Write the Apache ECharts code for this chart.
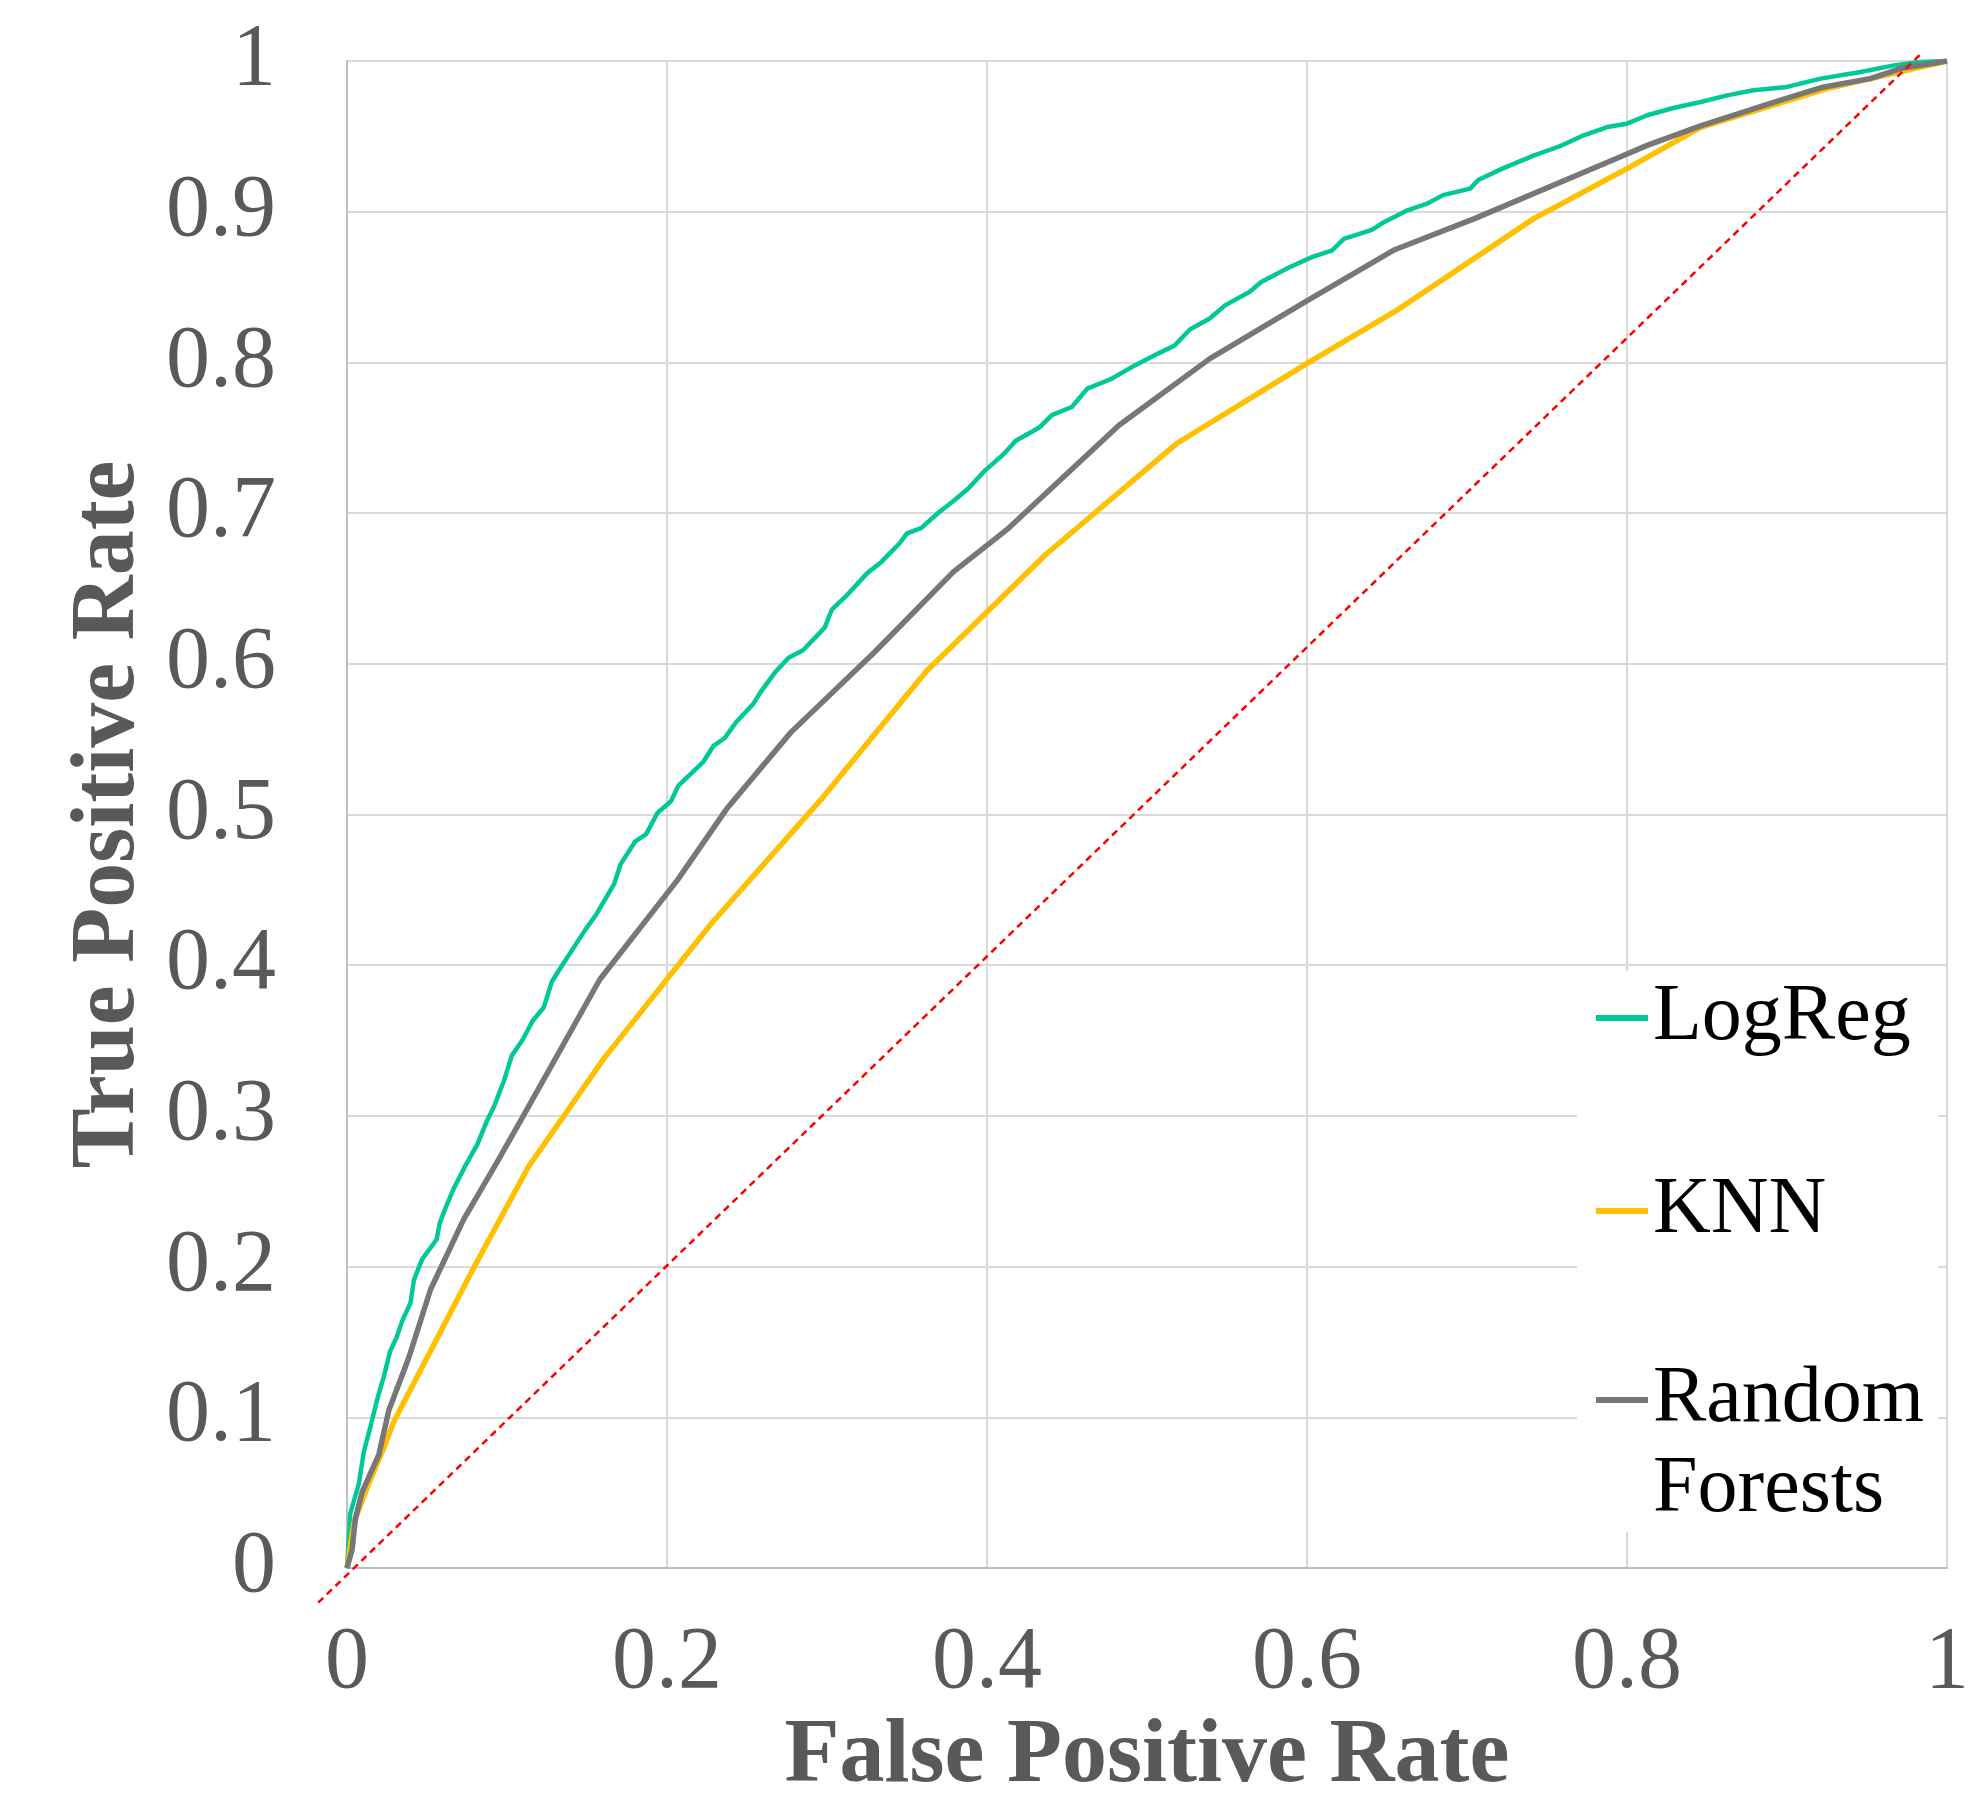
<!DOCTYPE html>
<html>
<head>
<meta charset="utf-8">
<script src="https://cdn.jsdelivr.net/npm/echarts@6/dist/echarts.min.js"></script>
<style>
html,body{margin:0;padding:0;background:#fff;}
#chart{width:1976px;height:1812px;}
</style>
</head>
<body>
<div id="chart"></div>
<script>
// ---- Data ----
const seriesNames = ['LogReg', 'KNN', 'Random Forests'];
const xTickValues = [0, 0.2, 0.4, 0.6, 0.8, 1];
const yTickValues = [0, 0.1, 0.2, 0.3, 0.4, 0.5, 0.6, 0.7, 0.8, 0.9, 1];

const logRegFpr = [0,0.002,0.0074,0.0105,0.0147,0.0189,0.023,0.027,0.031,0.0345,0.0397,0.0418,0.047,0.056,0.058,0.0616,0.0668,0.074,0.0814,0.0876,0.0918,0.098,0.103,0.1095,0.116,0.123,0.128,0.1345,0.149,0.156,0.167,0.171,0.180,0.187,0.194,0.2026,0.207,0.2227,0.229,0.236,0.243,0.254,0.2584,0.2673,0.276,0.285,0.2986,0.303,0.312,0.325,0.334,0.3454,0.350,0.3588,0.370,0.379,0.388,0.399,0.410,0.418,0.433,0.4405,0.453,0.4627,0.4776,0.4924,0.5072,0.517,0.527,0.539,0.549,0.564,0.5714,0.5887,0.6034,0.6158,0.623,0.6405,0.648,0.6628,0.675,0.685,0.702,0.707,0.722,0.742,0.7584,0.773,0.7876,0.800,0.8126,0.829,0.846,0.8626,0.879,0.900,0.921,0.946,0.9668,0.983,1];
const logRegTpr = [0,0.036,0.056,0.077,0.094,0.112,0.127,0.144,0.153,0.164,0.176,0.191,0.205,0.218,0.229,0.239,0.252,0.267,0.281,0.297,0.306,0.323,0.340,0.350,0.363,0.372,0.389,0.400,0.4236,0.434,0.454,0.467,0.482,0.487,0.501,0.509,0.519,0.535,0.5455,0.5506,0.561,0.5735,0.581,0.594,0.604,0.609,0.624,0.636,0.645,0.660,0.6676,0.680,0.6866,0.690,0.7006,0.708,0.716,0.7285,0.7387,0.748,0.757,0.765,0.7704,0.7826,0.789,0.798,0.806,0.811,0.822,0.829,0.838,0.8467,0.8534,0.863,0.870,0.8744,0.882,0.888,0.893,0.9009,0.9053,0.911,0.9153,0.921,0.9286,0.9374,0.9436,0.9507,0.9562,0.9584,0.964,0.9688,0.9728,0.9772,0.9806,0.9828,0.9883,0.9927,0.9971,0.9993,1];

const knnFpr = [0,0.0043,0.0126,0.023,0.0293,0.0793,0.1136,0.1605,0.2272,0.2963,0.3621,0.4369,0.5183,0.5998,0.6553,0.7417,0.800,0.846,0.925,1];
const knnTpr = [0,0.030,0.0534,0.0797,0.0972,0.1994,0.2666,0.338,0.427,0.51,0.595,0.6727,0.746,0.7992,0.834,0.8954,0.9286,0.956,0.9817,1];

const rfFpr = [0,0.0032,0.0053,0.0095,0.0199,0.0261,0.0386,0.0522,0.073,0.0939,0.1095,0.158,0.2064,0.2372,0.2774,0.3298,0.379,0.4124,0.4825,0.5393,0.5986,0.654,0.7047,0.7956,0.8126,0.846,0.896,0.923,0.952,0.971,1];
const rfTpr = [0,0.0125,0.033,0.0505,0.0753,0.1045,0.1395,0.1848,0.2315,0.2695,0.2987,0.3905,0.4563,0.5036,0.5545,0.6078,0.661,0.689,0.7583,0.8025,0.840,0.8744,0.8954,0.9363,0.944,0.957,0.974,0.9828,0.9883,0.995,1];

// reference diagonal (drawn as in the source: slightly offset, runs past the axes)
const diagonalFpr = [-0.018, 0.983];
const diagonalTpr = [-0.023, 1.004];

// ---- Layout ----
const GRID = {left: 347, top: 61, width: 1600, height: 1507};
const EXT = 0.05; // overlay axes start below 0 so the diagonal can run past the corner

function pairs(xs, ys) { return xs.map((x, i) => [x, ys[i]]); }
const FONT = "'Liberation Serif', 'Times New Roman', serif";
const GREY = '#595959';

const chart = echarts.init(document.getElementById('chart'), null, {renderer: 'canvas'});
const legendText = {
  fontFamily: FONT, fontSize: 80, color: '#000', lineHeight: 90,
  rich: {t: {fontFamily: FONT, fontSize: 80, color: '#000', lineHeight: 90}}
};
const legendCommon = {left: 1596, padding: 0, itemWidth: 52, itemHeight: 6, itemGap: 0,
  icon: 'rect', textStyle: legendText, z: 5};

const overlayGrid = {
  left: GRID.left - EXT * GRID.width,
  top: GRID.top,
  width: GRID.width * (1 + EXT),
  height: GRID.height * (1 + EXT)
};

chart.setOption({
  animation: false,
  backgroundColor: '#fff',
  grid: [
    {left: GRID.left, top: GRID.top, width: GRID.width, height: GRID.height, containLabel: false},
    {left: overlayGrid.left, top: overlayGrid.top, width: overlayGrid.width, height: overlayGrid.height, containLabel: false}
  ],
  xAxis: [{
    type: 'value', min: 0, max: 1, interval: 0.2, gridIndex: 0,
    name: 'False Positive Rate', nameLocation: 'middle', nameGap: 120,
    nameTextStyle: {fontFamily: FONT, fontSize: 90, fontWeight: 'bold', color: GREY},
    axisLine: {show: true, lineStyle: {color: '#bfbfbf', width: 2}},
    axisTick: {show: false},
    axisLabel: {fontFamily: FONT, fontSize: 88, color: GREY, margin: 52,
      formatter: v => String(xTickValues.find(t => Math.abs(t - v) < 1e-9) ?? v)},
    splitLine: {show: true, lineStyle: {color: '#d9d9d9', width: 2}}
  }, {
    type: 'value', min: -EXT, max: 1, gridIndex: 1, show: false
  }],
  yAxis: [{
    type: 'value', min: 0, max: 1, interval: 0.1, gridIndex: 0,
    name: 'True Positive Rate', nameLocation: 'middle', nameGap: 186, nameRotate: 90,
    nameTextStyle: {fontFamily: FONT, fontSize: 90, fontWeight: 'bold', color: GREY},
    axisLine: {show: true, lineStyle: {color: '#bfbfbf', width: 2}},
    axisTick: {show: false},
    axisLabel: {fontFamily: FONT, fontSize: 88, color: GREY, margin: 71,
      formatter: v => String(yTickValues.find(t => Math.abs(t - v) < 1e-9) ?? v)},
    splitLine: {show: true, lineStyle: {color: '#d9d9d9', width: 2}}
  }, {
    type: 'value', min: -EXT, max: 1, gridIndex: 1, show: false
  }],
  graphic: [{
    type: 'rect', z: 3,
    shape: {x: 1577, y: 971, width: 361, height: 561},
    style: {fill: '#ffffff'}
  }],
  legend: [
    Object.assign({}, legendCommon, {data: [seriesNames[0]], top: 973}),
    Object.assign({}, legendCommon, {data: [seriesNames[1]], top: 1166}),
    Object.assign({}, legendCommon, {data: [seriesNames[2]], top: 1265,
      formatter: n => '{t| }\n{t|' + n.split(' ').join('}\n{t|') + '}'})
  ],
  series: [
    {name: seriesNames[0], type: 'line', symbol: 'none', data: pairs(logRegFpr, logRegTpr),
      lineStyle: {color: '#00C897', width: 4.5}, itemStyle: {color: '#00C897'}, z: 2},
    {name: seriesNames[1], type: 'line', symbol: 'none', data: pairs(knnFpr, knnTpr),
      lineStyle: {color: '#FFC000', width: 5.5}, itemStyle: {color: '#FFC000'}, z: 2},
    {name: seriesNames[2], type: 'line', symbol: 'none', data: pairs(rfFpr, rfTpr),
      lineStyle: {color: '#777777', width: 5.5}, itemStyle: {color: '#777777'}, z: 2},
    {name: 'diagonal', type: 'line', symbol: 'none', clip: false, silent: true,
      xAxisIndex: 1, yAxisIndex: 1,
      data: pairs(diagonalFpr, diagonalTpr),
      lineStyle: {color: '#FF0000', width: 2.5, type: [7, 5]}, z: 2}
  ]
});
</script>
</body>
</html>
